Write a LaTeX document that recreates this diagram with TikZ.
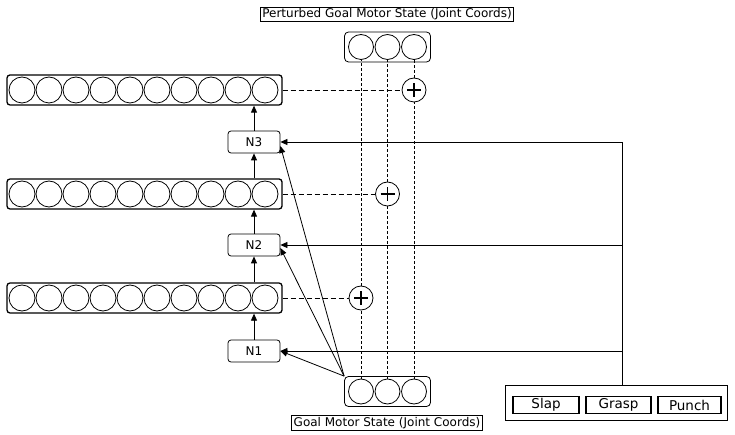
\documentclass[tikz,border=0pt]{standalone}
\usepackage{fontspec}
\setmainfont{DejaVu Sans}
\usetikzlibrary{arrows.meta}

\begin{document}
\begin{tikzpicture}[x=1pt, y=-1pt, line width=0.8pt,
  layer/.style={draw, rounded corners=3pt, line width=1.3pt, minimum width=275pt,
    minimum height=30pt, inner sep=0pt},
  unit/.style={draw, circle, line width=0.8pt, minimum size=26pt, inner sep=0pt},
  net/.style={draw, rounded corners=3pt, minimum width=52pt, minimum height=22pt,
    inner sep=0pt, font=\fontsize{12}{14}\selectfont},
  goal/.style={draw, rounded corners=4pt, minimum width=86pt, minimum height=30pt, inner sep=0pt},
  tagbox/.style={draw, inner xsep=2pt, inner ysep=1.5pt, font=\fontsize{12}{14}\selectfont},
  adder/.style={draw, circle, fill=white, minimum size=24pt, inner sep=0pt,
    path picture={\draw[line width=1.5pt]
      ([xshift=-7pt]path picture bounding box.center) -- ([xshift=7pt]path picture bounding box.center)
      ([yshift=-7pt]path picture bounding box.center) -- ([yshift=7pt]path picture bounding box.center);}},
  action/.style={draw, line width=1.8pt, minimum height=17pt, inner sep=0pt,
    font=\fontsize{13.5}{16}\selectfont},
  feed/.style={-{Triangle[length=7pt, width=6pt]}},
  pert/.style={dash pattern=on 5pt off 3pt},
  joint/.style={dash pattern=on 3pt off 2pt, line width=0.6pt}
]
  \useasboundingbox (0,0) rectangle (735,435);

  % layers with their units
  \foreach \r/\y in {A/298, B/194, C/90} {
    \node[layer] (layer\r) at (144.5,\y) {};
    \foreach \i in {0,...,9}
      \node[unit] (u\r\i) at (22+27*\i,\y) {};
  }

  \node[net] (N1) at (254,351) {N1};
  \node[net] (N2) at (254,245) {N2};
  \node[net] (N3) at (254,142) {N3};

  \draw[feed] (N1.north) -- (N1.north |- layerA.south);
  \draw[feed] (layerA.north -| N2.south) -- (N2.south);
  \draw[feed] (N2.north) -- (N2.north |- layerB.south);
  \draw[feed] (layerB.north -| N3.south) -- (N3.south);
  \draw[feed] (N3.north) -- (N3.north |- layerC.south);

  % goal states
  \node[goal] (goalTop) at (387.5,47) {};
  \node[goal] (goalBot) at (387.5,391.5) {};
  \foreach \k/\x in {1/361, 2/387.5, 3/414} {
    \node[unit, minimum size=25pt] (gT\k) at (\x,47) {};
    \node[unit, minimum size=25pt] (gB\k) at (\x,391.5) {};
  }
  \node[tagbox] (topTag) at (387,14.5) {Perturbed Goal Motor State (Joint Coords)};
  \node[tagbox] (botTag) at (387,423) {Goal Motor State (Joint Coords)};

  \node[adder] (plusA) at (361,298) {};
  \node[adder] (plusB) at (387.5,194) {};
  \node[adder] (plusC) at (414,90) {};

  \draw[pert] (layerA.east) -- (plusA.west);
  \draw[pert] (layerB.east) -- (plusB.west);
  \draw[pert] (layerC.east) -- (plusC.west);

  \draw[joint] (gB1.north) -- (plusA.south);
  \draw[joint] (plusA.north) -- (gT1.south);
  \draw[joint] (gB2.north) -- (plusB.south);
  \draw[joint] (plusB.north) -- (gT2.south);
  \draw[joint] (gB3.north) -- (plusC.south);
  \draw[joint] (plusC.north) -- (gT3.south);

  \draw[feed] (goalBot.north west) -- (N1.east);
  \draw[feed] (goalBot.north west) -- ([yshift=-3pt]N2.east);
  \draw[feed] (goalBot.north west) -- ([yshift=-4pt]N3.east);

  % actions
  \node[draw, minimum width=222pt, minimum height=35pt, inner sep=0pt] (act) at (616,402.5) {};
  \node[action, minimum width=66pt] (slap) at (546,405) {Slap};
  \node[action, minimum width=65pt] (grasp) at (618.5,405) {Grasp};
  \node[action, minimum width=63pt] (punch) at (689.5,405) {Punch};

  \coordinate (bus) at ([xshift=6pt]act.north);
  \draw[feed] (bus) |- (N1.east);
  \draw[feed] (bus) |- (N2.east);
  \draw[feed] (bus) |- (N3.east);
\end{tikzpicture}
\end{document}
